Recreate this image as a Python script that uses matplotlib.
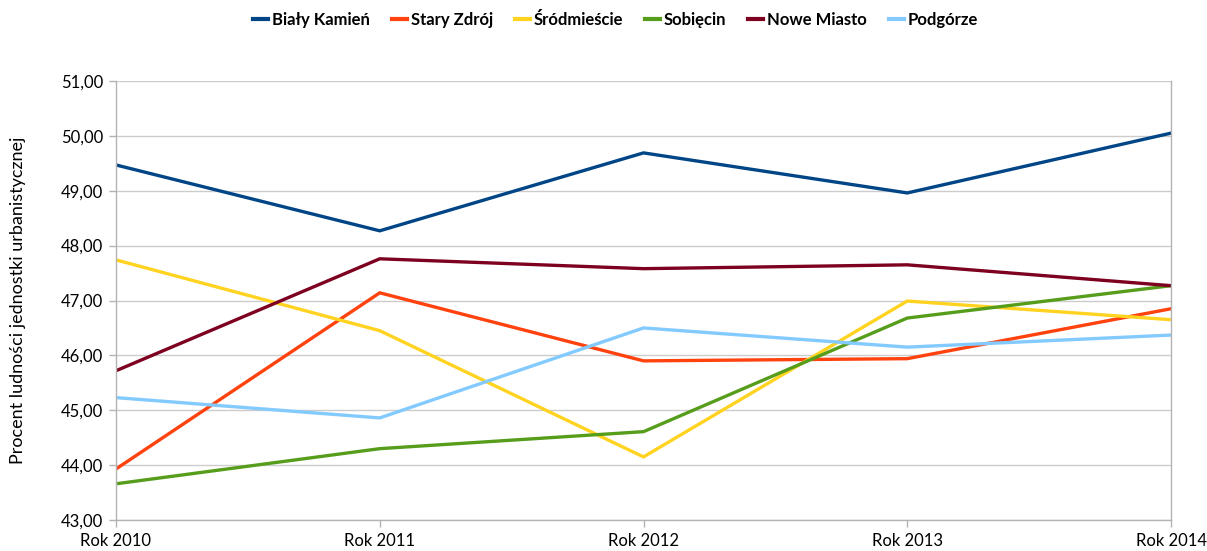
import matplotlib
matplotlib.use("Agg")
import matplotlib.pyplot as plt
from matplotlib.ticker import FuncFormatter, MultipleLocator

plt.rcParams['font.family'] = ['Lato', 'DejaVu Sans']

years = ["Rok 2010", "Rok 2011", "Rok 2012", "Rok 2013", "Rok 2014"]
bialy_kamien = [49.47, 48.27, 49.69, 48.96, 50.05]
stary_zdroj = [43.93, 47.14, 45.90, 45.94, 46.85]
srodmiescie = [47.74, 46.45, 44.15, 46.99, 46.65]
sobiecin = [43.66, 44.30, 44.61, 46.68, 47.27]
nowe_miasto = [45.72, 47.76, 47.58, 47.65, 47.27]
podgorze = [45.23, 44.86, 46.50, 46.15, 46.37]

series = [
    ("Biały Kamień", bialy_kamien, "#004586"),
    ("Stary Zdrój", stary_zdroj, "#ff420e"),
    ("Śródmieście", srodmiescie, "#ffd320"),
    ("Sobięcin", sobiecin, "#579d1c"),
    ("Nowe Miasto", nowe_miasto, "#7e0021"),
    ("Podgórze", podgorze, "#83caff"),
]

W, H = 1207, 551
fig = plt.figure(figsize=(W / 100, H / 100), dpi=100)
ax = fig.add_axes([116 / W, 1 - 520 / H, (1171 - 116) / W, (520 - 81) / H])

x = list(range(len(years)))
for name, vals, col in series:
    ax.plot(x, vals, color=col, lw=2.4, label=name, solid_joinstyle='miter')

ax.set_xlim(0, len(years) - 1)
ax.set_ylim(43, 51)
ax.yaxis.set_major_locator(MultipleLocator(1))
ax.yaxis.set_major_formatter(FuncFormatter(lambda v, p: f"{v:.2f}".replace('.', ',')))
ax.set_xticks(x)
ax.set_xticklabels(years)

ax.grid(axis='y', color='#cccccc', lw=1)
ax.set_axisbelow(True)
ax.spines['top'].set_visible(False)
for s in ['left', 'bottom', 'right']:
    ax.spines[s].set_color('#b3b3b3')
    ax.spines[s].set_linewidth(1)
ax.tick_params(axis='both', colors='#b3b3b3', labelcolor='black', labelsize=12, length=5, width=1)
ax.tick_params(axis='x', pad=4)
ax.tick_params(axis='y', pad=4)

ax.set_ylabel("Procent ludności jednostki urbanistycznej", fontsize=13)
ax.yaxis.set_label_coords((26 - 116) / 1055, 0.5)

leg = fig.legend(loc='upper center', bbox_to_anchor=(0.51, 1.005), ncol=6, frameon=False,
                 prop={'weight': 'bold', 'size': 12}, handlelength=0.9, handletextpad=0.25,
                 columnspacing=1.3)
for h in leg.get_lines():
    h.set_linewidth(3)

fig.savefig("out.png", dpi=100)
